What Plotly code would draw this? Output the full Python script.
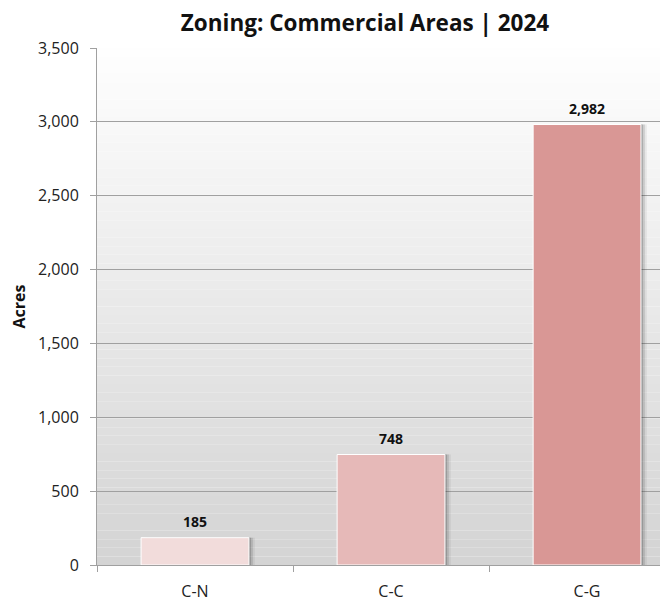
import plotly.graph_objects as go

zones = ["C-N", "C-C", "C-G"]
acres = [185, 748, 2982]
colors = ["#f2dcdb", "#e6b9b8", "#d99795"]
y_ticks = [0, 500, 1000, 1500, 2000, 2500, 3000, 3500]

font_name = "Open Sans, sans-serif"

# page body has an 8px margin, so the figure is shifted by 8px
W, H = 660, 595

fig = go.Figure()

# soft drop shadow behind each bar
for k, op in enumerate([0.22, 0.14, 0.07]):
    fig.add_trace(go.Bar(
        x=zones, y=acres, width=0.55, offset=-0.275 + 0.01 * (k + 1),
        marker=dict(color=f"rgba(40,40,40,{op})", line=dict(width=0)),
        hoverinfo="skip", showlegend=False,
    ))
fig.add_trace(go.Bar(
    x=zones, y=acres, width=0.55, offset=-0.275,
    marker=dict(color=colors, line=dict(color="white", width=1)),
    showlegend=False,
))

for z, a in zip(zones, acres):
    fig.add_annotation(x=z, y=a, text=f"<b>{a:,}</b>", showarrow=False,
                       yshift=16, font=dict(size=14, color="#111", family=font_name))

# grey gradient background for the plot area
n = 60
for i in range(n):
    g = int(255 - (255 - 212) * (i + 0.5) / n)
    fig.add_shape(type="rect", xref="paper", yref="paper",
                  x0=0, x1=1, y0=1 - (i + 1) / n, y1=1 - i / n,
                  fillcolor=f"rgb({g},{g},{g})", line=dict(width=0), layer="below")

fig.update_layout(
    width=W, height=H,
    margin=dict(l=89, r=0, t=40, b=38),
    paper_bgcolor="white", plot_bgcolor="white",
    barmode="overlay",
    title=dict(text="<b>Zoning: Commercial Areas | 2024</b>", x=357 / W,
               xanchor="center", y=1 - 15 / H, yanchor="middle",
               font=dict(size=22.5, color="#111", family=font_name)),
    font=dict(family=font_name, size=16, color="#222"),
)
fig.update_xaxes(
    range=[-0.5, 2.413], tickson="boundaries", ticks="outside", ticklen=6,
    tickcolor="#a0a0a0", showline=True, linecolor="#a0a0a0", linewidth=1,
    showgrid=False, tickfont=dict(size=16, color="#222"), ticklabelstandoff=12,
)
fig.update_yaxes(
    range=[0, 3500], tickvals=y_ticks, tickformat=",", ticks="outside", ticklen=6,
    tickcolor="#a0a0a0", showline=True, linecolor="#a0a0a0", linewidth=1,
    gridcolor="#a0a0a0", gridwidth=1, zeroline=False,
    title=dict(text="<b>Acres</b>", font=dict(size=16, color="#111"), standoff=14),
    tickfont=dict(size=16, color="#222"), ticklabelstandoff=8,
)

fig.write_html("out.html")
